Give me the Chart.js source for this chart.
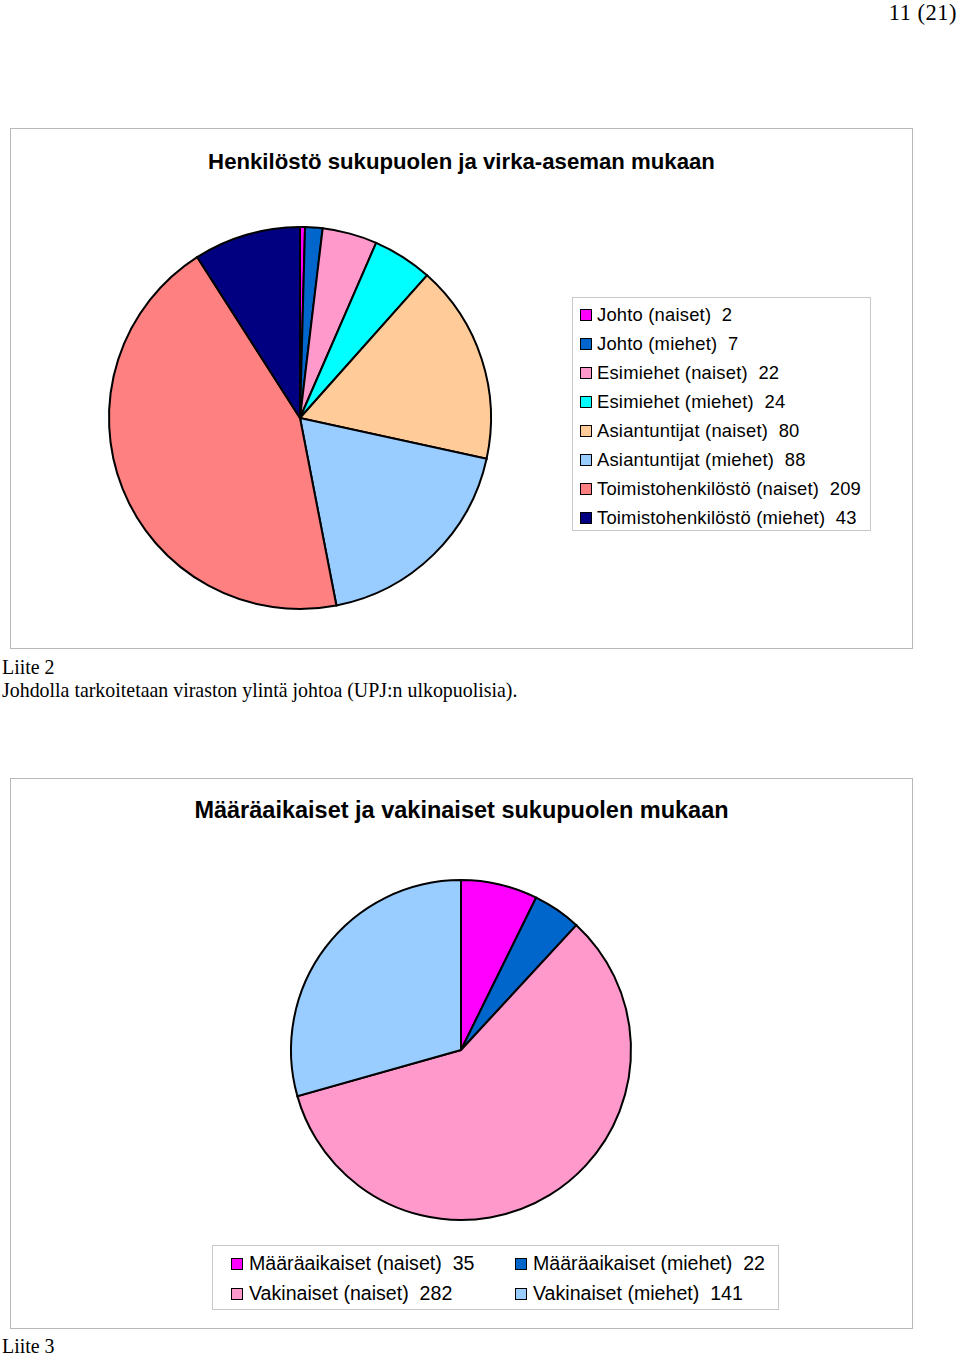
<!DOCTYPE html>
<html>
<head>
<meta charset="utf-8">
<script src="https://cdn.jsdelivr.net/npm/chart.js@4"></script>
<style>
  body { margin: 0; width: 960px; height: 1356px; background: #fff; position: relative; overflow: hidden; }
  .serif { font-family: "Liberation Serif", "Times New Roman", serif; position: absolute; color: #000; font-size: 19.9px; white-space: pre; }
  .box { position: absolute; border: 1px solid #b8b8b8; box-sizing: border-box; }
  .title { position: absolute; left: 0; right: 0; text-align: center; font-family: "Liberation Sans", Arial, sans-serif; font-weight: bold; color: #000; }
  .legend { position: absolute; border: 1px solid #c8c8c8; box-sizing: border-box; font-family: "Liberation Sans", Arial, sans-serif; color: #000; }
  .item { position: absolute; white-space: pre; line-height: 1; }
  .item i { position: absolute; width: 10px; height: 10px; border: 1px solid #000; }
  canvas { position: absolute; }
</style>
</head>
<body>
<div class="serif" style="right:3px; top:0px; font-size:22.5px; letter-spacing:0.5px;">11 (21)</div>

<div class="box" style="left:10px; top:128px; width:903px; height:521px;">
  <div class="title" style="top:20px; font-size:22.2px;">Henkilöstö sukupuolen ja virka-aseman mukaan</div>
</div>
<canvas id="pie1" width="400" height="400" style="left:100px; top:218px;"></canvas>
<div class="legend" id="legend1" style="left:572px; top:297px; width:299px; height:234px;"></div>

<div class="serif" style="left:2px; top:656px;">Liite 2</div>
<div class="serif" style="left:2px; top:679px;">Johdolla tarkoitetaan viraston ylintä johtoa (UPJ:n ulkopuolisia).</div>

<div class="box" style="left:10px; top:778px; width:903px; height:551px;">
  <div class="title" style="top:18px; font-size:23.5px;">Määräaikaiset ja vakinaiset sukupuolen mukaan</div>
</div>
<canvas id="pie2" width="360" height="360" style="left:281px; top:870px;"></canvas>
<div class="legend" id="legend2" style="left:212px; top:1245px; width:567px; height:65px;"></div>

<div class="serif" style="left:2px; top:1335px;">Liite 3</div>

<script>
// chart 1: staff by gender and position
const labels1 = [
  "Johto (naiset)", "Johto (miehet)", "Esimiehet (naiset)", "Esimiehet (miehet)",
  "Asiantuntijat (naiset)", "Asiantuntijat (miehet)",
  "Toimistohenkilöstö (naiset)", "Toimistohenkilöstö (miehet)"
];
const values1 = [2, 7, 22, 24, 80, 88, 209, 43];
const colors1 = ["#ff00ff", "#0066cc", "#ff99cc", "#00ffff", "#ffcc99", "#99ccff", "#ff8080", "#000080"];

// chart 2: fixed-term and permanent by gender
const labels2 = ["Määräaikaiset (naiset)", "Määräaikaiset (miehet)", "Vakinaiset (naiset)", "Vakinaiset (miehet)"];
const values2 = [35, 22, 282, 141];
const colors2 = ["#ff00ff", "#0066cc", "#ff99cc", "#99ccff"];

function makePie(id, labels, values, colors, radius) {
  new Chart(document.getElementById(id), {
    type: "pie",
    data: {
      labels: labels,
      datasets: [{
        data: values,
        backgroundColor: colors,
        borderColor: "#000",
        borderWidth: 2,
        borderJoinStyle: "miter"
      }]
    },
    options: {
      responsive: false,
      animation: false,
      radius: radius,
      layout: { padding: 0 },
      plugins: { legend: { display: false }, tooltip: { enabled: false } }
    }
  });
}

makePie("pie1", labels1, values1, colors1, 191);
makePie("pie2", labels2, values2, colors2, 170);

// legend 1: one column
const legend1 = document.getElementById("legend1");
labels1.forEach((label, i) => {
  const el = document.createElement("div");
  el.className = "item";
  el.style.left = "24px";
  el.style.top = (8 + i * 29) + "px";
  el.style.fontSize = "18.4px";
  el.style.letterSpacing = "0.2px";
  el.innerHTML = '<i style="left:-17px; top:3px; background:' + colors1[i] + '"></i>';
  el.appendChild(document.createTextNode(label + "  " + values1[i]));
  legend1.appendChild(el);
});

// legend 2: two columns
const legend2 = document.getElementById("legend2");
labels2.forEach((label, i) => {
  const el = document.createElement("div");
  el.className = "item";
  el.style.left = (i % 2 === 0 ? 36 : 320) + "px";
  el.style.top = (8 + Math.floor(i / 2) * 30) + "px";
  el.style.fontSize = "19.6px";
  el.innerHTML = '<i style="left:-18px; top:4px; background:' + colors2[i] + '"></i>';
  el.appendChild(document.createTextNode(label + "  " + values2[i]));
  legend2.appendChild(el);
});
</script>
</body>
</html>
